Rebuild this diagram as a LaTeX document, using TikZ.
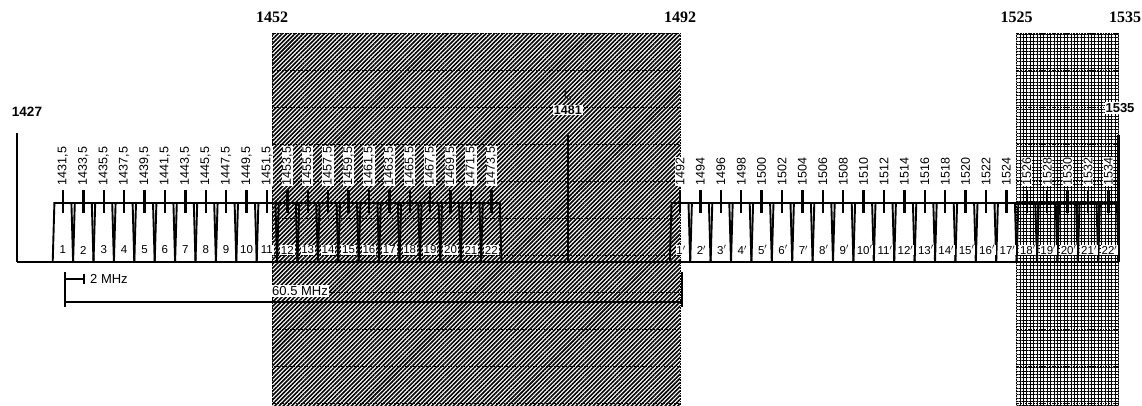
\documentclass[tikz,border=0pt]{standalone}
\usepackage{fontspec}
\setmainfont{Liberation Sans}
\newfontfamily\seriffont{Liberation Serif}
\usetikzlibrary{patterns.meta}
\begin{document}
\begin{tikzpicture}[x=1pt,y=-1pt,
  chan/.style={line width=1.9pt, line join=miter},
  tickln/.style={line width=2.4pt},
  thick line/.style={line width=2.4pt},
  flab/.style={rotate=90, anchor=west, inner sep=0.6pt, fill=white, font=\fontsize{12.5}{12.5}\selectfont},
  cnum/.style={inner sep=0.8pt, fill=white, font=\fontsize{11.5}{11.5}\selectfont},
  toplab/.style={font=\seriffont\bfseries\fontsize{16}{16}\selectfont},
  sidelab/.style={font=\bfseries\fontsize{13}{13}\selectfont, fill=white, inner sep=1pt},
  mhz/.style={font=\fontsize{13}{13}\selectfont, inner sep=1pt},
  hatchA/.style={pattern={Lines[angle=45,distance=3pt,line width=1.6pt]}, pattern color=black},
  hatchB/.style={pattern={Hatch[angle=0,distance=3.4pt,line width=0.9pt]}, pattern color=black},
  gridln/.style={densely dotted, line width=0.6pt},
]
\useasboundingbox (0,0) rectangle (1142,405);

% ---- channel shapes, group 1 (1..22) ----
\foreach \k in {1,...,22} {
  \pgfmathsetmacro\c{1431.5+2*(\k-1)}
  \pgfmathsetmacro\xl{17+(\c-1-1427)*10.2}
  \pgfmathsetmacro\xr{17+(\c+1-1427)*10.2}
  \pgfmathsetmacro\xc{17+(\c-1427)*10.2}
  \draw[chan] (\xl,262) -- (\xl+1.7,203) -- (\xr-1.7,203) -- (\xr,262);
  \draw[tickln] (\xc,190) -- (\xc,213);
}
\draw[chan] ({17+(1430.5-1427)*10.2+1.7},203) -- ({17+(1474.5-1427)*10.2-1.7},203);
% ---- channel shapes, group 2 (1'..22') ----
\foreach \k in {1,...,22} {
  \pgfmathsetmacro\c{1492+2*(\k-1)}
  \pgfmathsetmacro\xl{17+(\c-1-1427)*10.2}
  \pgfmathsetmacro\xr{17+(\c+1-1427)*10.2}
  \pgfmathsetmacro\xc{17+(\c-1427)*10.2}
  \draw[chan] (\xl,262) -- (\xl+1.7,203) -- (\xr-1.7,203) -- (\xr,262);
  \draw[tickln] (\xc,190) -- (\xc,213);
}
\draw[chan] ({17+(1491-1427)*10.2+1.7},203) -- ({17+(1535-1427)*10.2-1.7},203);

% ---- shaded bands ----
\coordinate (b1tl) at ({17+(1452-1427)*10.2},33);
\coordinate (b1br) at ({17+(1492-1427)*10.2},405);
\coordinate (b2tl) at ({17+(1525-1427)*10.2},33);
\coordinate (b2br) at ({17+(1535-1427)*10.2},405);
\fill[hatchA] (b1tl) rectangle (b1br);
\fill[hatchB] (b2tl) rectangle (b2br);
\foreach \y in {33,70,107,144,181,218,255,292,329,366,403} {
  \draw[gridln] (b1tl |- 0,\y) -- (b1br |- 0,\y);
  \draw[gridln] (b2tl |- 0,\y) -- (b2br |- 0,\y);
}
\draw[gridln] (b1tl) -- (b1tl |- b1br);
\draw[gridln] (b1br |- b1tl) -- (b1br);
\draw[gridln] (b2tl) -- (b2tl |- b2br);
\draw[gridln] (b2br |- b2tl) -- (b2br);

% ---- axis and markers ----
\coordinate (a0) at (17,262);
\coordinate (a1) at ({17+(1535-1427)*10.2},262);
\coordinate (p1427) at (17,133);
\coordinate (p1481) at ({17+(1481-1427)*10.2},135);
\coordinate (q1481) at ({17+(1481-1427)*10.2},262);
\coordinate (p1535) at ({17+(1535-1427)*10.2},135);
\draw[thick line] (a0) -- (a1);
\draw[thick line] (p1427) -- (a0);
\draw[thick line] (p1481) -- (q1481);
\draw[thick line] (p1535) -- (a1);

% ---- labels on channels ----
\foreach \k in {1,...,22} {
  \pgfmathsetmacro\xc{17+(1431.5+2*(\k-1)-1427)*10.2}
  \pgfmathtruncatemacro\f{1431+2*(\k-1)}
  \node[flab] (la\k) at (\xc,186) {\f,5};
  \node[cnum] (na\k) at (\xc,250) {\k};
}
\foreach \k in {1,...,22} {
  \pgfmathsetmacro\xc{17+(1492+2*(\k-1)-1427)*10.2}
  \pgfmathtruncatemacro\f{1492+2*(\k-1)}
  \node[flab] (lb\k) at (\xc,186) {\f};
  \node[cnum] (nb\k) at (\xc+1,250) {\k$'$};
}

% ---- frequency labels ----
\node[toplab] (t1452) at (b1tl |- 0,17) {1452};
\node[toplab] (t1492) at (b1br |- 0,17) {1492};
\node[toplab] (t1525) at (b2tl |- 0,17) {1525};
\node[toplab] (t1535) at (1125,17) {1535};
\node[font=\bfseries\fontsize{13.5}{13.5}\selectfont] (l1427) at (27,112) {1427};
\node[sidelab] (l1535) at (1120,108) {1535};
\node[sidelab, font=\bfseries\fontsize{12.5}{12.5}\selectfont] (l1481) at (p1481 |- 0,110) {1481};
\node[font=\fontsize{10}{10}\selectfont, inner sep=0pt] (f0) at (p1481 |- 0,96) {f\raisebox{-2pt}{\fontsize{8}{8}\selectfont o}};

% ---- bandwidth bars ----
\coordinate (m0) at (65,272);
\coordinate (m1) at (65,307);
\coordinate (m2a) at (65,279);
\coordinate (m2b) at (84,279);
\coordinate (m3a) at (84,274);
\coordinate (m3b) at (84,284);
\coordinate (w0) at (65,302);
\coordinate (w1) at (682,302);
\coordinate (w2) at (682,272);
\coordinate (w3) at (682,307);
\draw[line width=2.4pt] (m0) -- (m1);
\draw[line width=2pt] (m2a) -- (m2b);
\draw[line width=1.8pt] (m3a) -- (m3b);
\draw[line width=2.8pt] (w0) -- (w1);
\draw[line width=2pt] (w2) -- (w3);
\node[mhz, anchor=west] (mhz2) at (89,279) {2 MHz};
\node[mhz, anchor=west, fill=white] (mhz60) at (271,291) {60.5 MHz};
\end{tikzpicture}
\end{document}
